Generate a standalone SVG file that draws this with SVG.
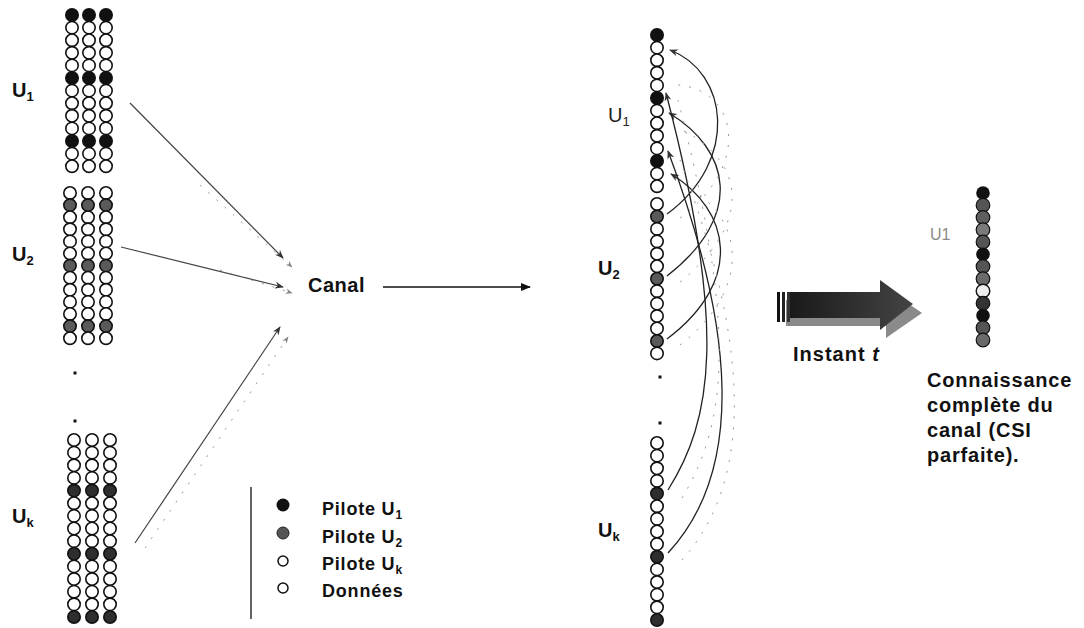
<svg xmlns="http://www.w3.org/2000/svg" xmlns:xlink="http://www.w3.org/1999/xlink" width="1084" height="628" viewBox="0 0 1084 628">
<style>
.w{fill:#fff;stroke:#111;stroke-width:1.6}
.b{fill:#111;stroke:#111;stroke-width:1.6}
.g{fill:#5a5a5a;stroke:#111;stroke-width:1.6}
.d{fill:#2e2e2e;stroke:#111;stroke-width:1.6}
.lbl{font-family:"Liberation Sans",Arial,sans-serif;font-weight:bold;font-size:20px;fill:#111}
.sub{font-size:13px}
.leg{font-family:"Liberation Sans",Arial,sans-serif;font-weight:bold;font-size:18px;letter-spacing:0.8px;fill:#111}
.con{fill:none;stroke:#444;stroke-width:1.2}
.cur{fill:none;stroke:#222;stroke-width:1.3}
.gh{fill:none;stroke:#999;stroke-width:1;stroke-dasharray:2 9}
</style>
<defs>
<marker id="ah" viewBox="0 0 10 8" refX="9" refY="4" markerWidth="9" markerHeight="7" orient="auto" markerUnits="userSpaceOnUse">
<path d="M0,0 L10,4 L0,8 L3,4 z" fill="#333"/>
</marker>
<marker id="ahg" viewBox="0 0 10 8" refX="9" refY="4" markerWidth="7" markerHeight="6" orient="auto" markerUnits="userSpaceOnUse">
<path d="M0,0 L10,4 L0,8 L3,4 z" fill="#888"/>
</marker>
<marker id="ahf" viewBox="0 0 10 8" refX="9" refY="4" markerWidth="10" markerHeight="8" orient="auto" markerUnits="userSpaceOnUse">
<path d="M0,0 L10,4 L0,8 z" fill="#111"/>
</marker>
<linearGradient id="arrG" x1="0" y1="0" x2="1" y2="0">
<stop offset="0" stop-color="#1a1a1a"/><stop offset="0.6" stop-color="#333"/><stop offset="1" stop-color="#444"/>
</linearGradient>
<g id="colA">
<circle class="b" cx="0" cy="0" r="6.2"/><circle class="w" cx="0" cy="12.6" r="6.2"/><circle class="w" cx="0" cy="25.2" r="6.2"/><circle class="w" cx="0" cy="37.8" r="6.2"/><circle class="w" cx="0" cy="50.4" r="6.2"/>
<circle class="b" cx="0" cy="63" r="6.2"/><circle class="w" cx="0" cy="75.6" r="6.2"/><circle class="w" cx="0" cy="88.2" r="6.2"/><circle class="w" cx="0" cy="100.8" r="6.2"/><circle class="w" cx="0" cy="113.4" r="6.2"/>
<circle class="b" cx="0" cy="126" r="6.2"/><circle class="w" cx="0" cy="138.6" r="6.2"/><circle class="w" cx="0" cy="151.2" r="6.2"/>
</g>
<g id="colB">
<circle class="w" cx="0" cy="0" r="6.2"/><circle class="g" cx="0" cy="12.1" r="6.2"/><circle class="w" cx="0" cy="24.2" r="6.2"/><circle class="w" cx="0" cy="36.3" r="6.2"/><circle class="w" cx="0" cy="48.4" r="6.2"/><circle class="w" cx="0" cy="60.5" r="6.2"/>
<circle class="g" cx="0" cy="72.6" r="6.2"/><circle class="w" cx="0" cy="84.7" r="6.2"/><circle class="w" cx="0" cy="96.8" r="6.2"/><circle class="w" cx="0" cy="108.9" r="6.2"/><circle class="w" cx="0" cy="121" r="6.2"/>
<circle class="g" cx="0" cy="133.1" r="6.2"/><circle class="w" cx="0" cy="145.2" r="6.2"/>
</g>
<g id="colB2">
<circle class="w" cx="0" cy="0" r="6.2"/><circle class="g" cx="0" cy="12.45" r="6.2"/><circle class="w" cx="0" cy="24.9" r="6.2"/><circle class="w" cx="0" cy="37.35" r="6.2"/><circle class="w" cx="0" cy="49.8" r="6.2"/><circle class="w" cx="0" cy="62.25" r="6.2"/>
<circle class="g" cx="0" cy="74.7" r="6.2"/><circle class="w" cx="0" cy="87.15" r="6.2"/><circle class="w" cx="0" cy="99.6" r="6.2"/><circle class="w" cx="0" cy="112.05" r="6.2"/><circle class="w" cx="0" cy="124.5" r="6.2"/>
<circle class="g" cx="0" cy="136.95" r="6.2"/><circle class="w" cx="0" cy="149.4" r="6.2"/>
</g>
<g id="colC">
<circle class="w" cx="0" cy="0" r="6.2"/><circle class="w" cx="0" cy="12.64" r="6.2"/><circle class="w" cx="0" cy="25.28" r="6.2"/><circle class="w" cx="0" cy="37.92" r="6.2"/>
<circle class="d" cx="0" cy="50.56" r="6.2"/><circle class="w" cx="0" cy="63.2" r="6.2"/><circle class="w" cx="0" cy="75.84" r="6.2"/><circle class="w" cx="0" cy="88.48" r="6.2"/><circle class="w" cx="0" cy="101.12" r="6.2"/>
<circle class="d" cx="0" cy="113.76" r="6.2"/><circle class="w" cx="0" cy="126.4" r="6.2"/><circle class="w" cx="0" cy="139.04" r="6.2"/><circle class="w" cx="0" cy="151.68" r="6.2"/><circle class="w" cx="0" cy="164.32" r="6.2"/>
<circle class="d" cx="0" cy="176.96" r="6.2"/>
</g>
</defs>
<rect width="1084" height="628" fill="#fff"/>

<!-- Left user blocks -->
<g id="left-U1">
<use xlink:href="#colA" href="#colA" x="72" y="15"/>
<use xlink:href="#colA" href="#colA" x="89" y="15"/>
<use xlink:href="#colA" href="#colA" x="106" y="15"/>
<text class="lbl" x="12" y="97" font-size="21">U<tspan class="sub" dy="4">1</tspan></text>
</g>
<g id="left-U2">
<use xlink:href="#colB" href="#colB" x="70" y="193"/>
<use xlink:href="#colB" href="#colB" x="88" y="193"/>
<use xlink:href="#colB" href="#colB" x="106" y="193"/>
<text class="lbl" x="12" y="261" font-size="21">U<tspan class="sub" dy="4">2</tspan></text>
</g>
<g id="left-dots">
<rect x="73.5" y="371.5" width="3" height="3" fill="#111"/>
<rect x="73.5" y="419.5" width="3" height="3" fill="#111"/>
</g>
<g id="left-Uk">
<use xlink:href="#colC" href="#colC" x="74" y="440"/>
<use xlink:href="#colC" href="#colC" x="92" y="440"/>
<use xlink:href="#colC" href="#colC" x="110" y="440"/>
<text class="lbl" x="12" y="523" font-size="21">U<tspan class="sub" dy="4">k</tspan></text>
</g>

<!-- Legend -->
<g id="legend">
<line x1="251" y1="487" x2="251" y2="619" stroke="#111" stroke-width="1.3"/>
<circle cx="283" cy="505" r="6.5" fill="#111"/>
<circle cx="283" cy="533" r="6" fill="#555" stroke="#222" stroke-width="1"/>
<circle cx="283" cy="561" r="5" fill="#fff" stroke="#111" stroke-width="1.5"/>
<circle cx="283" cy="588" r="5" fill="#fff" stroke="#111" stroke-width="1.5"/>
<text class="leg" x="322" y="515">Pilote U<tspan font-size="12" dy="4" letter-spacing="0">1</tspan></text>
<text class="leg" x="322" y="543">Pilote U<tspan font-size="12" dy="4" letter-spacing="0">2</tspan></text>
<text class="leg" x="322" y="570">Pilote U<tspan font-size="12" dy="4" letter-spacing="0">k</tspan></text>
<text class="leg" x="322" y="597">Données</text>
</g>

<!-- Canal -->
<g id="canal">
<text class="lbl" x="308" y="292" font-size="21" letter-spacing="0.5">Canal</text>
</g>

<!-- Center user column -->
<g id="center-U1">
<use xlink:href="#colA" href="#colA" x="657" y="35"/>
<text x="608" y="122" font-family="Liberation Sans, Arial, sans-serif" font-size="20" fill="#222">U<tspan font-size="13" dy="4">1</tspan></text>
</g>
<g id="center-U2">
<use xlink:href="#colB2" href="#colB2" x="657" y="204"/>
<text class="lbl" x="598" y="275" font-size="21">U<tspan class="sub" dy="4">2</tspan></text>
</g>
<g id="center-dots">
<rect x="658.5" y="375.5" width="3" height="3" fill="#111"/>
<rect x="658.5" y="421.5" width="3" height="3" fill="#111"/>
</g>
<g id="center-Uk">
<use xlink:href="#colC" href="#colC" x="657" y="443"/>
<text class="lbl" x="598" y="537" font-size="21">U<tspan class="sub" dy="4">k</tspan></text>
</g>

<!-- Big arrow -->
<g id="instant-arrow">
<path d="M786,300 L886,300 L886,288 L922,313 L886,338 L886,326 L786,326 z" fill="#8a8a8a"/>
<path d="M790,292 L880,292 L880,280 L913,304 L880,330 L880,318 L790,318 z" fill="url(#arrG)"/>
<rect x="777" y="292" width="3" height="30" fill="#111"/>
<rect x="782" y="292" width="3" height="30" fill="#222"/>
<rect x="787" y="292" width="3" height="30" fill="#333"/>
<text class="lbl" x="793" y="361" letter-spacing="1">Instant <tspan font-style="italic">t</tspan></text>
</g>

<!-- Right result column -->
<g id="right-U1">
<text x="930" y="240" font-family="Liberation Sans, Arial, sans-serif" font-size="16" fill="#8a8a8a">U1</text>
<circle cx="983" cy="193" r="6.8" fill="#111"/>
<circle cx="983" cy="205.25" r="6.8" fill="#555" stroke="#111" stroke-width="1.2"/>
<circle cx="983" cy="217.5" r="6.8" fill="#5e5e5e" stroke="#111" stroke-width="1.2"/>
<circle cx="983" cy="229.75" r="6.8" fill="#7a7a7a" stroke="#111" stroke-width="1.2"/>
<circle cx="983" cy="242" r="6.8" fill="#555" stroke="#111" stroke-width="1.2"/>
<circle cx="983" cy="254.25" r="6.8" fill="#111"/>
<circle cx="983" cy="266.5" r="6.8" fill="#555" stroke="#111" stroke-width="1.2"/>
<circle cx="983" cy="278.75" r="6.8" fill="#6a6a6a" stroke="#111" stroke-width="1.2"/>
<circle cx="983" cy="291" r="6.8" fill="#eee" stroke="#111" stroke-width="1.4"/>
<circle cx="983" cy="303.25" r="6.8" fill="#333" stroke="#111" stroke-width="1.2"/>
<circle cx="983" cy="315.5" r="6.8" fill="#111"/>
<circle cx="983" cy="327.75" r="6.8" fill="#555" stroke="#111" stroke-width="1.2"/>
<circle cx="983" cy="340" r="6.8" fill="#6a6a6a" stroke="#111" stroke-width="1.2"/>
<text class="lbl" font-size="21" letter-spacing="0.8">
<tspan x="927" y="387">Connaissance</tspan>
<tspan x="927" y="412">complète du</tspan>
<tspan x="927" y="437">canal (CSI</tspan>
<tspan x="927" y="462">parfaite).</tspan>
</text>
</g>

<!-- Connectors -->
<g id="connectors">
<line class="con" x1="130" y1="103" x2="283" y2="258" marker-end="url(#ah)"/>
<line class="con" x1="121" y1="247" x2="283" y2="287" marker-end="url(#ah)"/>
<line class="con" x1="135" y1="543" x2="280" y2="327" marker-end="url(#ah)"/>
<line class="gh" x1="200" y1="185" x2="292" y2="267" marker-end="url(#ahg)"/>
<line class="gh" x1="220" y1="270" x2="292" y2="293" marker-end="url(#ahg)"/>
<line class="gh" x1="145" y1="548" x2="288" y2="337" marker-end="url(#ahg)"/>
<line x1="383" y1="287" x2="530" y2="287" stroke="#111" stroke-width="1.3" marker-end="url(#ahf)"/>

<path class="cur" d="M667,214 C740,160 728,72 670,50" marker-end="url(#ah)"/>
<path class="cur" d="M667,276 C745,215 730,150 669,113" marker-end="url(#ah)"/>
<path class="cur" d="M667,339 C745,280 730,210 671,174" marker-end="url(#ah)"/>
<path class="cur" d="M668,490 C712,420 728,330 666,93" marker-end="url(#ah)"/>
<path class="cur" d="M668,553 C745,470 735,330 668,151" marker-end="url(#ah)"/>

<path class="gh" d="M680,218 C752,165 738,90 678,85"/>
<path class="gh" d="M680,282 C756,220 742,160 682,130"/>
<path class="gh" d="M680,345 C756,285 742,215 684,185"/>
<path class="gh" d="M682,498 C724,428 740,340 678,100"/>
<path class="gh" d="M682,560 C756,478 748,340 680,160"/>
</g>
</svg>
